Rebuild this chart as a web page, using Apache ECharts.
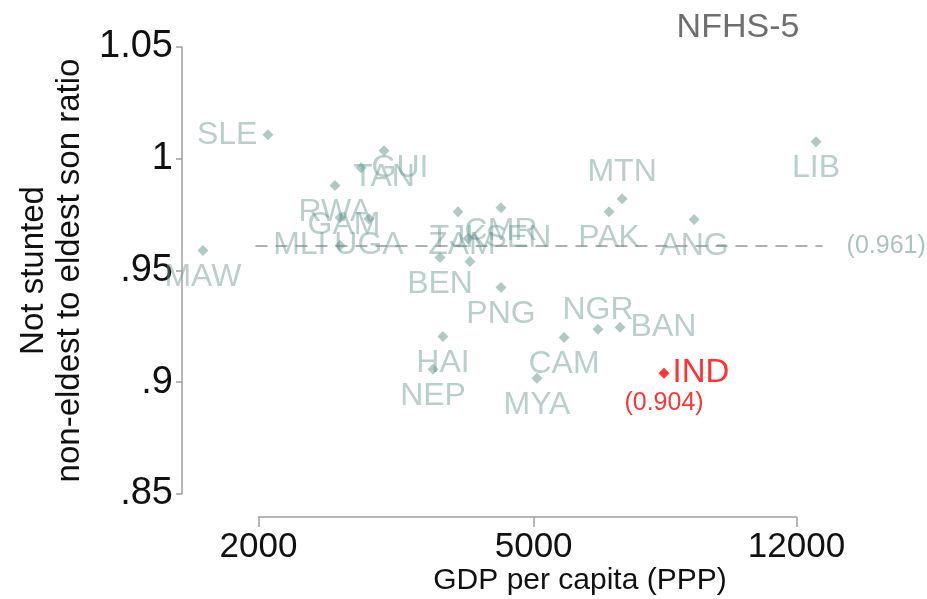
<!DOCTYPE html>
<html><head><meta charset="utf-8">
<script src="https://cdn.jsdelivr.net/npm/echarts@6/dist/echarts.min.js"></script>
<style>html,body{margin:0;padding:0;background:#fff}#c{width:927px;height:599px}</style>
</head><body><div id="c"></div>
<script>
// ---- data ----
const codes = ['MAW','SLE','TAN','GUI','RWA','GAM','UGA','MLI','TJK','CMR','BEN','ZAM','SEN','PNG','HAI','NEP','CAM','MYA','NGR','BAN','MTN','PAK','ANG','LIB'];
const gdp   = [1662,2064,3039,2815,2580,2624,2890,2624,3889,4487,3662,4046,4020,4487,3698,3578,5536,5058,6198,6671,6717,6432,8537,12820];
const ratio = [0.959,1.0107,1.0036,0.996,0.988,0.9737,0.9732,0.9612,0.9763,0.9781,0.9558,0.954,0.9643,0.9424,0.9205,0.9058,0.920,0.9018,0.9237,0.9246,0.9821,0.9763,0.9728,1.0076];
const indCode = 'IND';
const indGdp = 7724;
const indRatio = 0.904;
const meanRatio = 0.961;
const meanSpan = [1980, 13100];
const xTicks = [2000, 5000, 12000];

// ---- label placement (presentation) ----
const place = {
  MAW:{position:'bottom'}, SLE:{position:'left'}, TAN:{position:'bottom'}, GUI:{position:'right'},
  RWA:{position:'bottom'}, GAM:{position:'inside', offset:[4,8]}, UGA:{position:'bottom'},
  MLI:{position:'left', distance:8}, TJK:{position:'bottom'}, CMR:{position:'bottom', distance:2},
  BEN:{position:'bottom'}, ZAM:{position:'inside', offset:[-8,-16]}, SEN:{position:'right', distance:12},
  PNG:{position:'bottom'}, HAI:{position:'bottom'}, NEP:{position:'bottom'}, CAM:{position:'bottom'},
  MYA:{position:'bottom'}, NGR:{position:'top', distance:-2}, BAN:{position:'right'},
  MTN:{position:'top'}, PAK:{position:'bottom'}, ANG:{position:'bottom'}, LIB:{position:'bottom'}
};

const teal = 'rgba(100,150,142,0.57)';
const tealPt = 'rgba(100,150,142,0.64)';
const font = 'Liberation Sans, Arial, sans-serif';

const pts = codes.map((c,i)=>({
  value:[gdp[i], ratio[i]], name:c,
  label:Object.assign({show:true, formatter:c, distance:5}, place[c])
}));

const fmtY = v => String(+(+v).toFixed(2)).replace(/^0\./,'.');

const chart = echarts.init(document.getElementById('c'), null, {renderer:'canvas'});
chart.setOption({
  animation:false,
  backgroundColor:'#fff',
  textStyle:{fontFamily:font},
  grid:[
    {left:182, right:67, top:47, bottom:105, outerBoundsMode:'none', containLabel:false},
    {left:258.5, right:130.5, top:516, height:1, outerBoundsMode:'none', containLabel:false}
  ],
  xAxis:[
    {gridIndex:0, type:'log', logBase:10, min:1550, max:14840, show:false},
    {gridIndex:1, type:'log', logBase:10, min:xTicks[0], max:xTicks[xTicks.length-1],
     axisLine:{show:true, onZero:false, lineStyle:{color:'#a0a0a0', width:1.5}},
     axisTick:{show:true, length:10, lineStyle:{color:'#a0a0a0', width:1.5}, customValues:xTicks},
     axisLabel:{fontSize:35, color:'#111', margin:13, fontFamily:font, customValues:xTicks,
       formatter:v=>String(Math.round(v))},
     splitLine:{show:false}}
  ],
  yAxis:[
    {gridIndex:0, type:'value', min:0.85, max:1.05, interval:0.05,
     axisLine:{show:true, onZero:false, lineStyle:{color:'#a0a0a0', width:1.5}},
     axisTick:{show:true, length:6, lineStyle:{color:'#a0a0a0', width:1.5}},
     axisLabel:{fontSize:38, color:'#111', margin:9, fontFamily:font, formatter:fmtY},
     splitLine:{show:false},
     name:'Not stunted\nnon-eldest to eldest son ratio', nameLocation:'middle', nameRotate:90, nameGap:94,
     nameTextStyle:{fontSize:33, color:'#111', lineHeight:36, fontFamily:font}},
    {gridIndex:1, type:'value', show:false}
  ],
  title:{text:'NFHS-5', left:733, top:6, textAlign:'center',
    textStyle:{fontSize:34, fontWeight:'normal', color:'#6e6e6e', fontFamily:font}},
  graphic:[{type:'text', x:580, y:581,
    style:{text:'GDP per capita (PPP)', font:'30px Liberation Sans, Arial, sans-serif', fill:'#111', align:'center', verticalAlign:'middle'}}],
  series:[
    {type:'line', xAxisIndex:0, yAxisIndex:0, data:[[meanSpan[0],meanRatio],[meanSpan[1],meanRatio]],
     symbol:'none', silent:true, z:1,
     lineStyle:{color:'#b0b0b0', width:2, type:[12,8]},
     endLabel:{show:true, formatter:'('+meanRatio.toFixed(3)+')', distance:24, fontSize:25, color:'#a9c4c0', fontFamily:font}},
    {type:'scatter', xAxisIndex:0, yAxisIndex:0, data:pts, symbol:'diamond', symbolSize:11, clip:false,
     itemStyle:{color:tealPt}, z:3,
     label:{fontSize:32, color:teal, fontFamily:font, lineHeight:32}},
    {type:'scatter', xAxisIndex:0, yAxisIndex:0, data:[[indGdp, indRatio]], symbol:'diamond', symbolSize:11, clip:false,
     itemStyle:{color:'#ff0000'}, z:4,
     label:{show:true, position:'right', distance:3, formatter:indCode, fontSize:33, color:'#ff0000', fontFamily:font}},
    {type:'scatter', xAxisIndex:0, yAxisIndex:0, data:[[indGdp, indRatio]], symbolSize:0, clip:false, z:4,
     label:{show:true, position:'bottom', distance:17, formatter:'('+indRatio.toFixed(3)+')', fontSize:25, color:'#ff0000', fontFamily:font}}
  ]
});
</script>
</body></html>
